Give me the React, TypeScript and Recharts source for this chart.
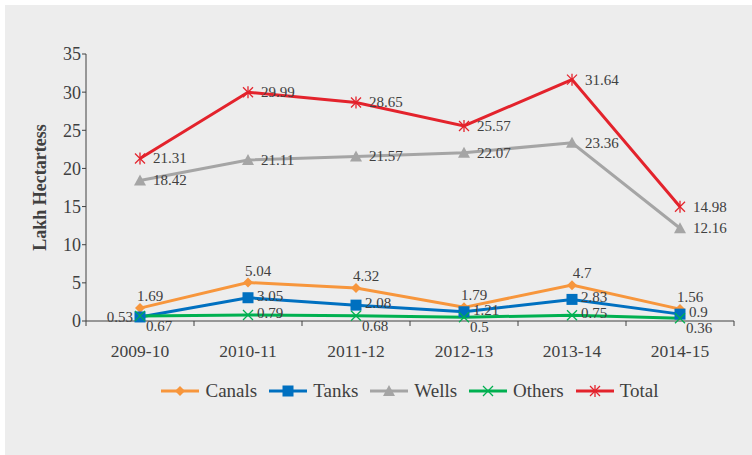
import React from 'react';
import { LineChart, Line, XAxis, YAxis, Legend, LabelList } from 'recharts';

const years = ['2009-10', '2010-11', '2011-12', '2012-13', '2013-14', '2014-15'];
const canals = [1.69, 5.04, 4.32, 1.79, 4.7, 1.56];
const tanks = [0.53, 3.05, 2.08, 1.21, 2.83, 0.9];
const wells = [18.42, 21.11, 21.57, 22.07, 23.36, 12.16];
const others = [0.67, 0.79, 0.68, 0.5, 0.75, 0.36];
const total = [21.31, 29.99, 28.65, 25.57, 31.64, 14.98];
const yTicks = [0, 5, 10, 15, 20, 25, 30, 35];

const data = years.map((year, i) => ({
  year,
  canals: canals[i],
  tanks: tanks[i],
  wells: wells[i],
  others: others[i],
  total: total[i],
}));

const W = 747;
const H = 450;
const MARGIN = { top: 49, right: 18, bottom: 68, left: 0 };
const Y_AXIS_W = 81;
const PLOT_W = W - MARGIN.right - MARGIN.left - Y_AXIS_W;
const BAND = PLOT_W / years.length;

const FONT = '"Liberation Serif", "Times New Roman", serif';
const TEXT = '#404040';
const AXIS = '#404040';

// where each value label sits relative to its point
const SPOT = {
  top: { dx: 10, dy: -7, anchor: 'middle' },
  right: { dx: 9, dy: 3, anchor: 'start' },
  far: { dx: 13, dy: 5, anchor: 'start' },
  left: { dx: -7, dy: 5, anchor: 'end' },
  below: { dx: 6, dy: 15, anchor: 'start' },
};

const series = [
  { key: 'canals', name: 'Canals', color: '#F7963C', marker: 'diamond', spots: ['top', 'top', 'top', 'top', 'top', 'top'] },
  { key: 'tanks', name: 'Tanks', color: '#0070C0', marker: 'square', spots: ['left', 'right', 'right', 'right', 'right', 'right'] },
  { key: 'wells', name: 'Wells', color: '#A5A5A5', marker: 'triangle', spots: ['far', 'far', 'far', 'far', 'far', 'far'] },
  { key: 'others', name: 'Others', color: '#00B050', marker: 'cross', spots: ['below', 'right', 'below', 'below', 'right', 'below'] },
  { key: 'total', name: 'Total', color: '#E3232C', marker: 'star', spots: ['far', 'far', 'far', 'far', 'far', 'far'] },
];

function Marker({ kind, cx, cy, color }) {
  if (cx == null || cy == null) return null;
  if (kind === 'diamond') {
    return <polygon points={`${cx},${cy - 5} ${cx + 5},${cy} ${cx},${cy + 5} ${cx - 5},${cy}`} fill={color} />;
  }
  if (kind === 'square') {
    return <rect x={cx - 5.5} y={cy - 5.5} width={11} height={11} fill={color} />;
  }
  if (kind === 'triangle') {
    return <polygon points={`${cx},${cy - 6} ${cx + 6},${cy + 5} ${cx - 6},${cy + 5}`} fill={color} />;
  }
  if (kind === 'cross') {
    return (
      <g stroke={color} strokeWidth={1.3}>
        <line x1={cx - 5} y1={cy - 5} x2={cx + 5} y2={cy + 5} />
        <line x1={cx - 5} y1={cy + 5} x2={cx + 5} y2={cy - 5} />
      </g>
    );
  }
  return (
    <g stroke={color} strokeWidth={1.3}>
      <line x1={cx - 5} y1={cy - 5} x2={cx + 5} y2={cy + 5} />
      <line x1={cx - 5} y1={cy + 5} x2={cx + 5} y2={cy - 5} />
      <line x1={cx} y1={cy - 6} x2={cx} y2={cy + 6} />
    </g>
  );
}

const makeLabel = (spots) => (props) => {
  const { x, y, value, index } = props;
  const s = SPOT[spots[index]];
  return (
    <text
      x={x + s.dx}
      y={y + s.dy}
      textAnchor={s.anchor}
      fontFamily={FONT}
      fontSize={15}
      fill={TEXT}
    >
      {value}
    </text>
  );
};

function XTick({ x, y, payload, index }) {
  const half = BAND / 2;
  return (
    <g>
      <line x1={x - half} x2={x - half} y1={y} y2={y + 5} stroke={AXIS} />
      {index === years.length - 1 && <line x1={x + half} x2={x + half} y1={y} y2={y + 5} stroke={AXIS} />}
      <text x={x} y={y + 36} textAnchor="middle" fontFamily={FONT} fontSize={17.5} fill={TEXT}>
        {payload.value}
      </text>
    </g>
  );
}

function YTitle({ viewBox }) {
  const vb = viewBox || { x: 0, y: MARGIN.top, height: 267 };
  const tx = vb.x + 41;
  const ty = vb.y + vb.height / 2;
  return (
    <text
      x={tx}
      y={ty}
      transform={`rotate(-90, ${tx}, ${ty})`}
      textAnchor="middle"
      fontFamily={FONT}
      fontWeight="bold"
      fontSize={18}
      fill={TEXT}
    >
      Lakh Hectartess
    </text>
  );
}

function LegendBox() {
  return (
    <div
      style={{
        display: 'flex',
        justifyContent: 'center',
        alignItems: 'center',
        height: 26,
        gap: 12,
        fontFamily: FONT,
        fontSize: 19,
        color: TEXT,
      }}
    >
      {series.map((s) => (
        <div key={s.key} style={{ display: 'flex', alignItems: 'center', gap: 6 }}>
          <svg width={38} height={16}>
            <line x1={0} x2={38} y1={8} y2={8} stroke={s.color} strokeWidth={3} />
            <Marker kind={s.marker} cx={19} cy={8} color={s.color} />
          </svg>
          <span style={{ fontFamily: FONT, fontSize: 19, color: TEXT }}>{s.name}</span>
        </div>
      ))}
    </div>
  );
}

export default function App() {
  return (
    <div style={{ position: 'absolute', left: 5, top: 5, width: W, height: H, background: '#EDEDED' }}>
      <LineChart width={W} height={H} data={data} margin={MARGIN}>
        <XAxis
          dataKey="year"
          height={40}
          padding={{ left: BAND / 2, right: BAND / 2 }}
          tickLine={false}
          tickSize={0}
          tickMargin={0}
          interval={0}
          axisLine={{ stroke: AXIS }}
          tick={(p) => <XTick {...p} />}
        />
        <YAxis
          width={Y_AXIS_W}
          domain={[0, 35]}
          ticks={yTicks}
          interval={0}
          tickSize={4}
          tickMargin={1}
          axisLine={{ stroke: AXIS }}
          tickLine={{ stroke: AXIS }}
          tick={{ fontFamily: FONT, fontSize: 18, fill: TEXT }}
          label={<YTitle />}
        />
        <Legend
          verticalAlign="bottom"
          content={() => <LegendBox />}
          wrapperStyle={{ top: 373, bottom: 'auto', left: Y_AXIS_W, width: PLOT_W }}
        />
        {series.map((s) => (
          <Line
            key={s.key}
            type="linear"
            dataKey={s.key}
            name={s.name}
            stroke={s.color}
            strokeWidth={3}
            isAnimationActive={false}
            activeDot={false}
            dot={(p) => <Marker key={`${s.key}-${p.index}`} kind={s.marker} cx={p.cx} cy={p.cy} color={s.color} />}
          >
            <LabelList dataKey={s.key} content={makeLabel(s.spots)} />
          </Line>
        ))}
      </LineChart>
    </div>
  );
}
